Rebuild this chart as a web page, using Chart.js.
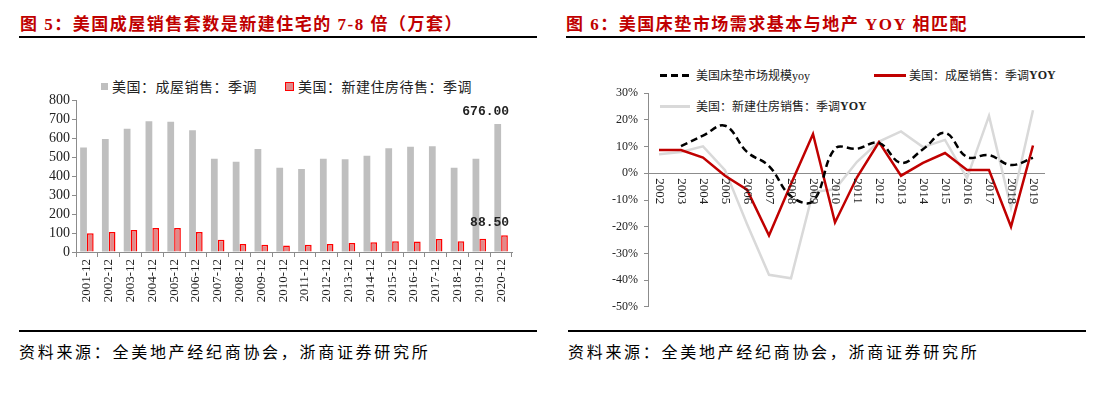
<!DOCTYPE html>
<html>
<head>
<meta charset="utf-8">
<script src="https://cdn.jsdelivr.net/npm/chart.js@4"></script>
<style>
  body { margin: 0; background: #fff; width: 1104px; height: 398px; position: relative; overflow: hidden;
         font-family: "Liberation Serif", "Noto Sans CJK SC", serif; }
  .title { position: absolute; top: 10px; font-size: 17px; font-weight: bold; color: #c00000; letter-spacing: 1.5px; white-space: nowrap; }
  .rule { position: absolute; height: 2px; background: #000; }
  .source { position: absolute; top: 339px; font-size: 16px; letter-spacing: 2.7px; color: #000; white-space: nowrap;
            font-family: "Noto Sans CJK SC", sans-serif; }
  .legend { position: absolute; font-size: 13px; color: #222; white-space: nowrap; display: flex; align-items: center; }
  .swatch { display: inline-block; margin-right: 4px; }
  canvas { position: absolute; }
</style>
</head>
<body>
<div class="title" style="left:20px">图 5：美国成屋销售套数是新建住宅的 7-8 倍（万套）</div>
<div class="rule" style="left:19px; width:518px; top:36px"></div>
<div class="title" style="left:566px">图 6：美国床垫市场需求基本与地产 YOY 相匹配</div>
<div class="rule" style="left:566px; width:519px; top:36px"></div>

<div class="legend" style="left:101px; top:76px; font-size:14px; letter-spacing:0.5px">
  <span class="swatch" style="width:7px;height:7px;background:#bfbfbf"></span>美国：成屋销售：季调
  <span class="swatch" style="width:7px;height:7px;background:#e08a8a;border:1px solid #ff0000;margin-left:28px"></span>美国：新建住房待售：季调
</div>

<div class="legend" style="left:660px; top:66px; font-size:12px">
  <span class="swatch" style="width:29px;height:3px;background:repeating-linear-gradient(90deg,#000 0 7px,transparent 7px 11px);margin-right:7px"></span>美国床垫市场规模yoy
  <span class="swatch" style="width:32px;height:3px;background:#c00000;margin-left:64px;margin-right:3px"></span>美国：成屋销售：季调<b>YOY</b>
</div>
<div class="legend" style="left:660px; top:97px; font-size:12px">
  <span class="swatch" style="width:30px;height:3px;background:#d9d9d9;margin-right:6px"></span>美国：新建住房销售：季调<b>YOY</b>
</div>

<canvas id="salesChart" width="540" height="230" style="left:0;top:90px"></canvas>
<canvas id="yoyChart" width="544" height="240" style="left:560px;top:80px"></canvas>

<div class="rule" style="left:19px; width:518px; top:330px"></div>
<div class="rule" style="left:568px; width:518px; top:330px"></div>
<div class="source" style="left:19px">资料来源：全美地产经纪商协会，浙商证券研究所</div>
<div class="source" style="left:568px">资料来源：全美地产经纪商协会，浙商证券研究所</div>

<script>
// left chart data (万套)
const saleMonths = ['2001-12','2002-12','2003-12','2004-12','2005-12','2006-12','2007-12','2008-12','2009-12','2010-12',
                    '2011-12','2012-12','2013-12','2014-12','2015-12','2016-12','2017-12','2018-12','2019-12','2020-12'];
const existingSales = [551, 596, 650, 690, 687, 643, 492, 476, 544, 445, 438, 492, 489, 508, 548, 555, 558, 445, 492, 676];
const newHomesForSale = [99, 106, 116, 127, 127, 105, 64, 42, 38, 34, 38, 42, 47, 52, 57, 55, 68, 57, 70, 88.5];
const salesTicks = [0, 100, 200, 300, 400, 500, 600, 700, 800];

// right chart data (%)
const yoyYears = ['2002','2003','2004','2005','2006','2007','2008','2009','2010','2011',
                  '2012','2013','2014','2015','2016','2017','2018','2019'];
const mattressYoy = [null, 10.2, 14.1, 17.8, 8.0, 2.7, -8.6, -10.4, 9.2, 9.2, 11.4, 3.9, 9.0, 15.1, 6.1, 6.8, 3.1, 5.8];
const existingYoy = [8.7, 8.7, 5.9, -0.9, -6.1, -23.3, -4.0, 14.7, -18.4, -1.5, 11.7, -0.9, 3.9, 7.6, 1.2, 1.2, -20.0, 10.4];
const newSalesYoy = [7.1, 8.0, 10.1, 1.2, -19.0, -38.0, -39.3, -7.0, -6.0, 4.3, 11.9, 15.7, 9.8, 12.5, -1.8, 21.5, -12.9, 23.6];

const axisGray = '#8c8c8c';

// value labels on the last bars
const lastValueLabels = {
    id: 'lastValueLabels',
    afterDatasetsDraw(chart) {
        const ctx = chart.ctx;
        const xScale = chart.scales.x;
        const last = saleMonths.length - 1;
        ctx.save();
        ctx.font = 'bold 13px "Liberation Mono", monospace';
        ctx.fillStyle = '#222';
        ctx.textAlign = 'right';
        ctx.textBaseline = 'bottom';
        [0, 1].forEach(d => {
            const el = chart.getDatasetMeta(d).data[last];
            const v = chart.data.datasets[d].data[last];
            ctx.fillText(v.toFixed(2), xScale.getPixelForValue(last) + 8, el.y - 6);
        });
        ctx.restore();
    }
};

new Chart(document.getElementById('salesChart'), {
    type: 'bar',
    data: {
        labels: saleMonths,
        datasets: [{
            label: '美国：成屋销售：季调',
            data: existingSales,
            backgroundColor: '#bfbfbf',
            borderWidth: 0
        }, {
            label: '美国：新建住房待售：季调',
            data: newHomesForSale,
            backgroundColor: '#e08a8a',
            borderColor: '#ff0000',
            borderWidth: 1.5
        }]
    },
    options: {
        responsive: false,
        animation: false,
        layout: { padding: { left: 30, top: 9, right: 28, bottom: 0 } },
        datasets: { bar: { categoryPercentage: 0.62, barPercentage: 1 } },
        plugins: { legend: { display: false }, tooltip: { enabled: false } },
        scales: {
            x: {
                grid: { offset: true, drawOnChartArea: false, tickLength: 5, color: axisGray },
                border: { color: axisGray },
                ticks: { autoSkip: false, minRotation: 90, maxRotation: 90, padding: 2, color: '#222',
                         font: { family: '"Liberation Serif", serif', size: 13 } },
                afterFit: s => { s.height = 68; }
            },
            y: {
                min: 0, max: 800,
                afterBuildTicks: s => { s.ticks = salesTicks.map(v => ({ value: v })); },
                grid: { drawOnChartArea: false, tickLength: 4, color: axisGray },
                border: { color: axisGray },
                ticks: { autoSkip: false, padding: 2, color: '#222',
                         font: { family: '"Liberation Serif", serif', size: 14 } },
                afterFit: s => { s.width = 46; }
            }
        }
    },
    plugins: [lastValueLabels]
});

// year labels hang below the zero line, turned clockwise
const yearLabels = {
    id: 'yearLabels',
    afterDatasetsDraw(chart) {
        const ctx = chart.ctx;
        const xScale = chart.scales.x;
        const y0 = chart.scales.y.getPixelForValue(0);
        ctx.save();
        ctx.font = '13px "Liberation Serif", serif';
        ctx.fillStyle = '#222';
        ctx.textAlign = 'left';
        ctx.textBaseline = 'middle';
        yoyYears.forEach((yr, i) => {
            ctx.save();
            ctx.translate(xScale.getPixelForValue(i), y0 + 5);
            ctx.rotate(Math.PI / 2);
            ctx.fillText(yr, 0, 0);
            ctx.restore();
        });
        ctx.restore();
    }
};

new Chart(document.getElementById('yoyChart'), {
    type: 'line',
    data: {
        labels: yoyYears,
        datasets: [{
            label: '美国床垫市场规模yoy',
            data: mattressYoy,
            borderColor: '#000',
            borderWidth: 2.5,
            borderDash: [7, 4],
            tension: 0.4,
            pointRadius: 0
        }, {
            label: '美国：成屋销售：季调YOY',
            data: existingYoy,
            borderColor: '#c00000',
            borderWidth: 2.5,
            tension: 0,
            pointRadius: 0
        }, {
            label: '美国：新建住房销售：季调YOY',
            data: newSalesYoy,
            borderColor: '#d9d9d9',
            borderWidth: 2.5,
            tension: 0,
            pointRadius: 0,
            order: 3
        }]
    },
    options: {
        responsive: false,
        animation: false,
        layout: { padding: { left: 48, top: 12, right: 60, bottom: 11 } },
        plugins: { legend: { display: false }, tooltip: { enabled: false } },
        scales: {
            x: {
                offset: true,
                position: { y: 0 },
                grid: { display: false },
                border: { color: axisGray },
                ticks: { display: false }
            },
            y: {
                min: -50, max: 30,
                ticks: { stepSize: 10, padding: 6, color: '#222', callback: v => v + '%',
                         font: { family: '"Liberation Serif", serif', size: 12 } },
                grid: { drawOnChartArea: false, tickLength: 4, color: axisGray },
                border: { color: axisGray },
                afterFit: s => { s.width = 40; }
            }
        }
    },
    plugins: [yearLabels]
});
</script>
</body>
</html>
